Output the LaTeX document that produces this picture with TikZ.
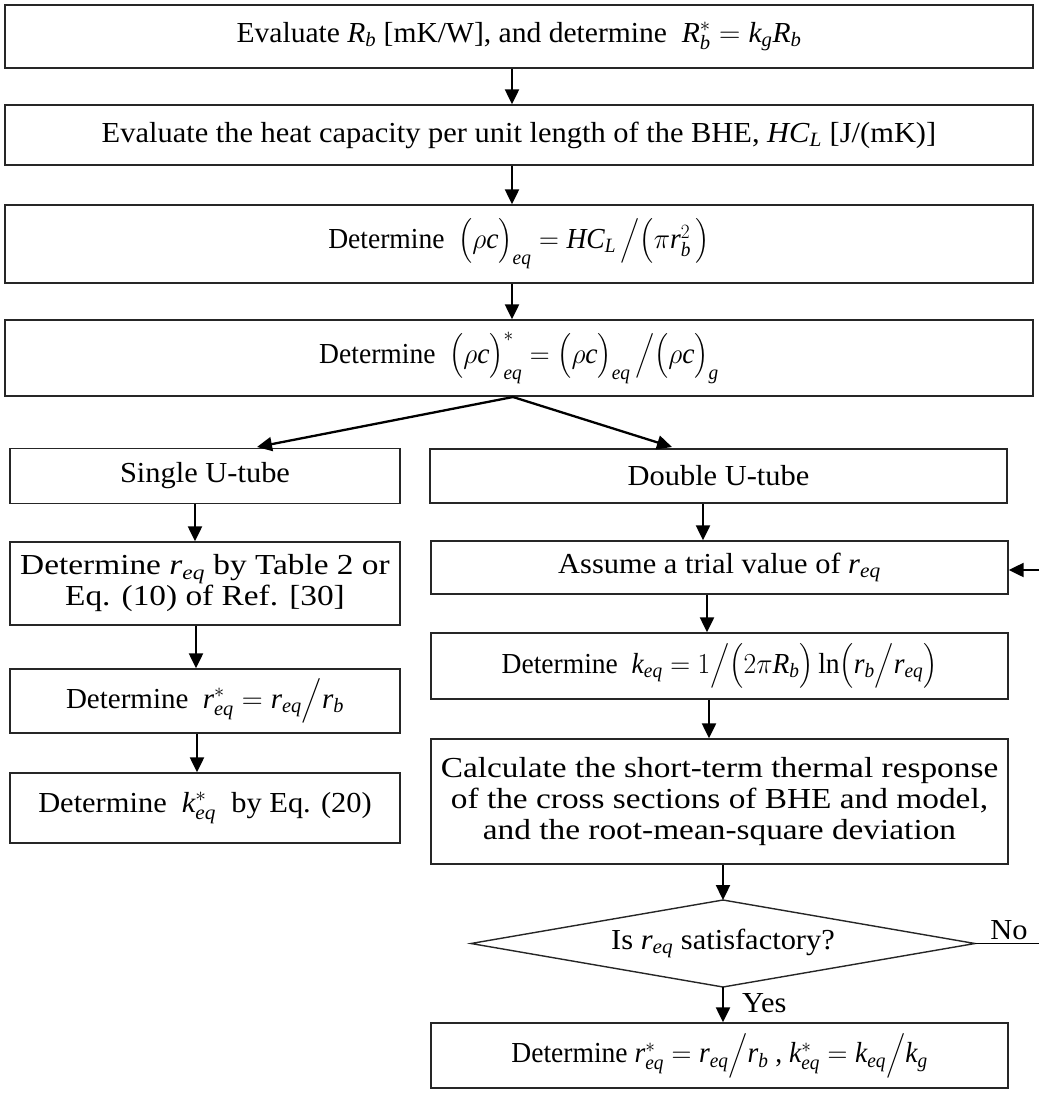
\RequirePackage{fix-cm}
\documentclass[tikz,border=0pt]{standalone}
\usepackage{amsmath}
\usepackage{fontspec}
\usepackage{graphicx}
\setmainfont{Liberation Serif}
\usetikzlibrary{arrows.meta}
\newcommand{\mi}[1]{\mathit{#1}}
\newcommand{\sx}[2][1.05]{\scalebox{#1}[1]{#2}}
\begin{document}
\begin{tikzpicture}[x=1pt,y=-1pt,
  box/.style={draw=black!85,line width=1.4pt,rectangle,inner sep=0pt,align=center,font=\fontsize{29}{31}\selectfont},
  arr/.style={line width=2.3pt,-{Triangle[length=15pt,width=14pt]}},
  lbl/.style={font=\fontsize{29}{31}\selectfont,inner sep=0pt}]
\useasboundingbox (0,0) rectangle (1039,1095);
% main column
\node[box,minimum width=1028,minimum height=63] (b1) at (519,36.5)
  {\sx[1.02]{Evaluate \textit{R}\textsubscript{\textit{b}} [mK/W], and determine\ \ $\mi{R}_{\mi{b}}^{*}=\mi{k}_{\mi{g}}\mi{R}_{\mi{b}}$}};
\node[box,minimum width=1028,minimum height=60] (b2) at (519,135)
  {\sx{Evaluate the heat capacity per unit length of the BHE, \textit{HC}\textsubscript{\textit{L}} [J/(mK)]}};
\node[box,minimum width=1028,minimum height=78] (b3) at (519,244)
  {\sx[0.95]{Determine\ \ $\bigl(\rho \mi{c}\bigr)_{\mi{eq}}=\mi{HC}_{\mi{L}}\,\big/\bigl(\pi \mi{r}_{\mi{b}}^{2}\,\bigr)$}};
\node[box,minimum width=1028,minimum height=76] (b4) at (519,358)
  {\sx[0.95]{Determine\ \ $\bigl(\rho \mi{c}\bigr)_{\mi{eq}}^{*}=\bigl(\rho \mi{c}\bigr)_{\mi{eq}}\,\big/\bigl(\rho \mi{c}\bigr)_{\mi{g}}$}};
% left branch
\node[box,minimum width=390,minimum height=55] (s1) at (205,476) {\sx{Single U-tube}};
\node[box,minimum width=390,minimum height=83] (s2) at (205,583.5)
  {\sx[1.15]{Determine \textit{r}\textsubscript{\textit{eq}} by Table 2 or}\\\sx[1.15]{Eq. (10) of Ref. [30]}};
\node[box,minimum width=390,minimum height=64] (s3) at (205,701)
  {\sx[1.0]{Determine\ \ $\mi{r}_{\mi{eq}}^{*}=\mi{r}_{\mi{eq}}\big/\mi{r}_{\mi{b}}$}};
\node[box,minimum width=390,minimum height=70] (s4) at (205,808)
  {\sx{Determine\ \ $\mi{k}_{\mi{eq}}^{*}$\ \ by Eq. (20)}};
% right branch
\node[box,minimum width=577,minimum height=54] (d1) at (718.5,476) {\sx{Double U-tube}};
\node[box,minimum width=577,minimum height=53] (d2) at (719.5,567.5)
  {\sx{Assume a trial value of \textit{r}\textsubscript{\textit{eq}}}};
\node[box,minimum width=577,minimum height=66] (d3) at (719.5,666)
  {\sx[0.95]{Determine\ \ $\mi{k}_{\mi{eq}}=1\big/\bigl(2\pi \mi{R}_{\mi{b}}\bigr)\ln\bigl(\mi{r}_{\mi{b}}\big/\mi{r}_{\mi{eq}}\bigr)$}};
\node[box,minimum width=577,minimum height=125] (d4) at (719.5,801.5)
  {\sx[1.15]{Calculate the short-term thermal response}\\\sx[1.15]{of the cross sections of BHE and model,}\\\sx[1.15]{and the root-mean-square deviation}};
% decision diamond
\coordinate (qn) at (723,900);
\coordinate (qs) at (723,987);
\coordinate (qw) at (471,943.5);
\coordinate (qe) at (975,943.5);
\draw[draw=black!85,line width=1.4pt] (qn) -- (qe) -- (qs) -- (qw) -- cycle;
\node[lbl] (q) at (723,943.5) {\sx{Is \textit{r}\textsubscript{\textit{eq}} satisfactory?}};
\node[box,minimum width=577,minimum height=65] (d5) at (719.5,1055.5)
  {\sx[0.95]{Determine $\mi{r}_{\mi{eq}}^{*}=\mi{r}_{\mi{eq}}\big/\mi{r}_{\mi{b}}$ , $\mi{k}_{\mi{eq}}^{*}=\mi{k}_{\mi{eq}}\big/\mi{k}_{\mi{g}}$}};
% connectors
\draw[arr] (b1.south -| 512,0) -- (b2.north -| 512,0);
\draw[arr] (b2.south -| 512,0) -- (b3.north -| 512,0);
\draw[arr] (b3.south -| 512,0) -- (b4.north -| 512,0);
\coordinate (split) at (513,397);
\draw[arr] (split) -- (257,447);
\draw[arr] (split) -- (672,447);
\draw[arr] (s1.south -| 195,0) -- (s2.north -| 195,0);
\draw[arr] (s2.south -| 196,0) -- (s3.north -| 196,0);
\draw[arr] (s3.south -| 197,0) -- (s4.north -| 197,0);
\draw[arr] (d1.south -| 703,0) -- (d2.north -| 703,0);
\draw[arr] (d2.south -| 707,0) -- (d3.north -| 707,0);
\draw[arr] (d3.south -| 709,0) -- (d4.north -| 709,0);
\draw[arr] (d4.south -| qn) -- (qn);
\draw[arr] (qs) -- (d5.north -| qs);
\node[lbl,anchor=west] (yes) at (742,1003) {\sx{Yes}};
\coordinate (noend) at (1039,943.5);
\draw[line width=1.6pt] (qe) -- (noend);
\node[lbl,anchor=south] (no) at (1009,940) {\sx{No}};
\coordinate (backin) at (1039,570);
\draw[arr] (backin) -- (d2.east |- backin);
\end{tikzpicture}
\end{document}
